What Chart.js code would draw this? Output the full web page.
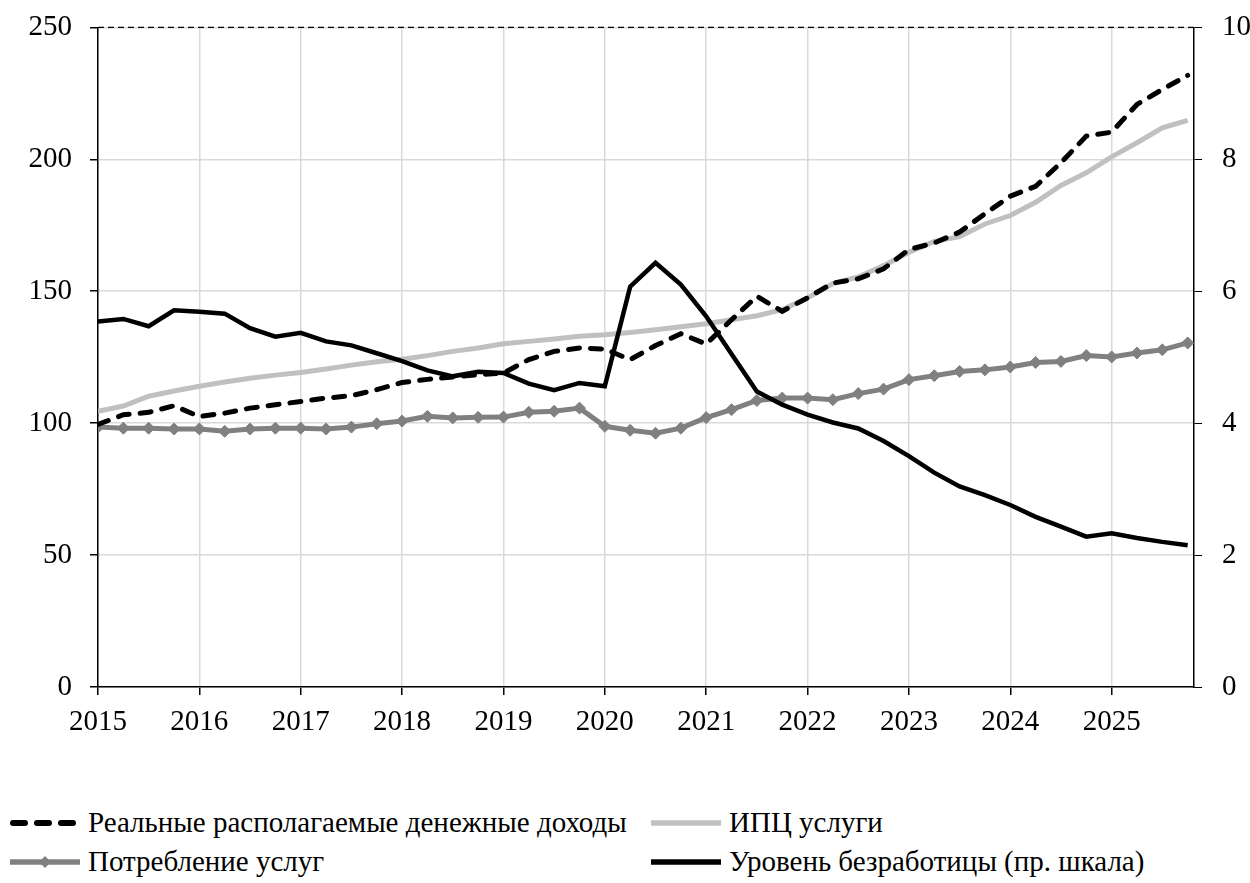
<!DOCTYPE html>
<html lang="ru">
<head>
<meta charset="utf-8">
<title>Доходы, потребление услуг и безработица</title>
<script src="https://cdn.jsdelivr.net/npm/chart.js@4/dist/chart.umd.min.js"></script>
<style>
    body { margin: 0; background: #fff; font-family: "Liberation Serif", "DejaVu Serif", serif; overflow: hidden; }
    #wrap { position: relative; width: 1250px; height: 883px; overflow: hidden; }
    #box { position: absolute; left: 0; top: -10px; width: 1250px; height: 770px; }
    .leg { position: absolute; display: flex; align-items: center; font-size: 29px; color: #000; white-space: nowrap; }
    .leg svg { margin-right: 8px; }
</style>
</head>
<body>
<div id="wrap">
    <div id="box"><canvas id="chart"></canvas></div>
    <div id="legend"></div>
</div>
<script>
// Годы и кварталы (ось X)
const years = ['2015', '2016', '2017', '2018', '2019', '2020', '2021', '2022', '2023', '2024', '2025'];
const quarterNames = ['I', 'II', 'III', 'IV'];
const quarters = [];
years.forEach(y => quarterNames.forEach(q => quarters.push(y + ' ' + q)));

// Реальные располагаемые денежные доходы (лев. шкала)
const income = [99.5, 103.2, 104.1, 106.6, 102.5, 103.8, 105.7, 107.0, 108.2, 109.5, 110.4, 112.7,
    115.4, 116.6, 117.5, 118.4, 119.0, 124.1, 127.2, 128.5, 128.1, 124.1, 129.4, 133.9,
    130.0, 139.2, 148.1, 142.4, 147.5, 153.1, 154.7, 158.5, 165.8, 168.3, 172.4, 179.4,
    186.0, 189.8, 198.7, 208.8, 210.3, 220.8, 226.5, 231.8];

// ИПЦ услуги (лев. шкала)
const cpiServices = [104.5, 106.5, 110.2, 112.2, 114.0, 115.6, 117.0, 118.2, 119.2, 120.5, 122.0, 123.3,
    124.2, 125.6, 127.2, 128.5, 130.1, 131.0, 131.9, 132.9, 133.5, 134.4, 135.4, 136.5,
    137.7, 139.2, 140.7, 143.0, 147.5, 152.9, 155.4, 159.7, 164.8, 168.9, 170.7, 175.5,
    178.7, 183.7, 190.1, 194.9, 200.9, 206.3, 211.9, 214.8];

// Потребление услуг (лев. шкала)
const consumption = [98.5, 98.1, 98.1, 97.8, 97.8, 96.9, 97.8, 98.1, 98.1, 97.8, 98.5, 99.8,
    100.8, 102.6, 102.0, 102.2, 102.3, 104.1, 104.5, 105.7, 98.8, 97.3, 96.2, 98.1,
    102.1, 105.1, 108.6, 109.5, 109.5, 108.9, 111.2, 112.9, 116.5, 118.0, 119.6, 120.2,
    121.3, 123.0, 123.4, 125.6, 125.1, 126.6, 127.8, 130.4];

// Уровень безработицы, % (пр. шкала)
const unemployment = [5.54, 5.58, 5.47, 5.71, 5.69, 5.66, 5.44, 5.31, 5.37, 5.24, 5.18, 5.06,
    4.94, 4.80, 4.71, 4.78, 4.76, 4.60, 4.50, 4.61, 4.56, 6.07, 6.43, 6.10,
    5.62, 5.05, 4.48, 4.28, 4.13, 4.01, 3.92, 3.73, 3.50, 3.25, 3.04, 2.91,
    2.76, 2.58, 2.43, 2.28, 2.33, 2.26, 2.20, 2.15];

const FONT = { family: '"Liberation Serif", "DejaVu Serif", serif', size: 29 };
const GRID = '#d9d9d9';

// точки по индексу квартала
function points(values) {
    return values.map((v, i) => ({ x: i, y: v }));
}

// пунктирная рамка сверху
const topBorder = {
    id: 'topBorder',
    afterDraw(chart) {
        const { ctx, chartArea } = chart;
        ctx.save();
        ctx.strokeStyle = '#000';
        ctx.lineWidth = 1.2;
        ctx.setLineDash([6, 4]);
        ctx.beginPath();
        ctx.moveTo(chartArea.left, chartArea.top);
        ctx.lineTo(chartArea.right, chartArea.top);
        ctx.stroke();
        ctx.restore();
    }
};

const ctx = document.getElementById('chart').getContext('2d');
const chart = new Chart(ctx, {
    type: 'line',
    data: {
        datasets: [
            {
                label: 'Реальные располагаемые денежные доходы',
                data: points(income),
                yAxisID: 'y',
                borderColor: '#000',
                borderWidth: 5,
                borderDash: [11, 11],
                borderCapStyle: 'round',
                pointRadius: 0,
                order: 1
            },
            {
                label: 'ИПЦ услуги',
                data: points(cpiServices),
                yAxisID: 'y',
                borderColor: '#c0c0c0',
                borderWidth: 5,
                pointRadius: 0,
                order: 2
            },
            {
                label: 'Потребление услуг',
                data: points(consumption),
                yAxisID: 'y',
                borderColor: '#808080',
                backgroundColor: '#808080',
                borderWidth: 5,
                pointStyle: 'rectRot',
                pointRadius: 6,
                pointBorderWidth: 1,
                pointBackgroundColor: '#808080',
                pointBorderColor: '#808080',
                order: 3
            },
            {
                label: 'Уровень безработицы (пр. шкала)',
                data: points(unemployment),
                yAxisID: 'y2',
                borderColor: '#000',
                borderWidth: 4.5,
                pointRadius: 0,
                order: 0
            }
        ]
    },
    options: {
        responsive: true,
        maintainAspectRatio: false,
        animation: false,
        layout: { padding: { top: 17, left: 0, right: 0, bottom: 0 } },
        plugins: {
            legend: { display: false },
            tooltip: { enabled: false }
        },
        scales: {
            x: {
                type: 'linear',
                min: 0,
                max: 43.25,
                afterFit: s => { s.height = 73; },
                grid: {
                    color: GRID,
                    lineWidth: 1.5,
                    tickColor: '#000',
                    tickLength: 8
                },
                border: { color: '#000', width: 1.5 },
                ticks: {
                    stepSize: 4,
                    includeBounds: false,
                    autoSkip: false,
                    maxRotation: 0,
                    padding: 10,
                    color: '#000',
                    font: FONT,
                    callback: v => quarters[v] ? quarters[v].split(' ')[0] : ''
                }
            },
            y: {
                position: 'left',
                min: 0,
                max: 250,
                afterFit: s => { s.width = 98; },
                grid: {
                    color: GRID,
                    lineWidth: 1.5,
                    tickColor: '#000',
                    tickLength: 8
                },
                border: { color: '#000', width: 1.5 },
                ticks: { stepSize: 50, padding: 18, color: '#000', font: FONT }
            },
            y2: {
                position: 'right',
                min: 0,
                max: 10,
                afterFit: s => { s.width = 56; },
                grid: {
                    drawOnChartArea: false,
                    tickColor: '#000',
                    tickLength: 8
                },
                border: { color: '#000', width: 1.5 },
                ticks: { stepSize: 2, padding: 20, color: '#000', font: FONT }
            }
        }
    },
    plugins: [topBorder]
});

// Легенда в две колонки
function marker(ds) {
    let s = '<svg width="70" height="20" viewBox="0 0 70 20">';
    if (ds.borderDash) {
        s += '<line x1="3" y1="10" x2="67" y2="10" stroke="#000" stroke-width="6" stroke-linecap="round" stroke-dasharray="12 12"/>';
    } else {
        s += '<line x1="1" y1="10" x2="69" y2="10" stroke="' + ds.borderColor + '" stroke-width="5.5" stroke-linecap="round"/>';
    }
    if (ds.pointStyle === 'rectRot') {
        s += '<polygon points="35,4 41,10 35,16 29,10" fill="' + ds.borderColor + '"/>';
    }
    return s + '</svg>';
}

const legendPos = [
    { left: 10, top: 806 },
    { left: 651, top: 806 },
    { left: 10, top: 845 },
    { left: 651, top: 845 }
];
const legendEl = document.getElementById('legend');
chart.data.datasets.forEach((ds, i) => {
    const item = document.createElement('div');
    item.className = 'leg';
    item.style.left = legendPos[i].left + 'px';
    item.style.top = legendPos[i].top + 'px';
    item.innerHTML = marker(ds) + '<span>' + ds.label + '</span>';
    legendEl.appendChild(item);
});
</script>
</body>
</html>
